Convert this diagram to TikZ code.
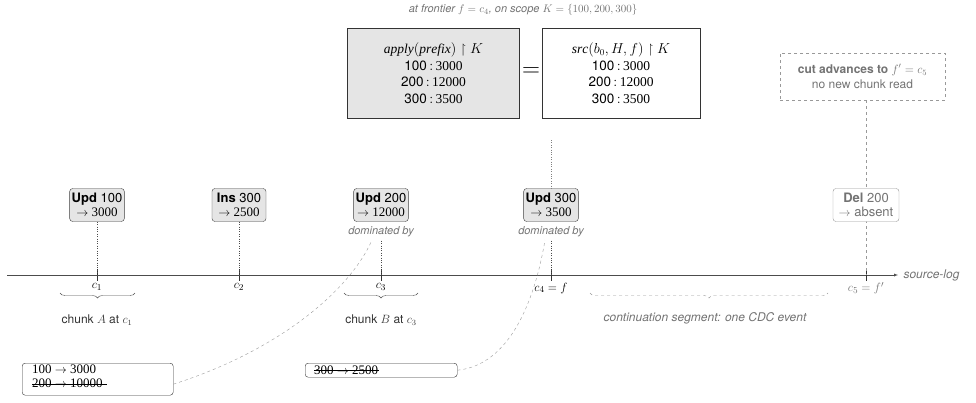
\documentclass[tikz,border=0pt]{standalone}
\usepackage{amsmath,amssymb}
\usepackage{fontspec}
\setmainfont{Liberation Serif}
\setsansfont{TeX Gyre Heros}
\usetikzlibrary{decorations.pathreplacing}
\begin{document}
\begin{tikzpicture}[x=1pt,y=-1pt,font=\fontsize{13}{14}\selectfont,
 ev/.style={draw=black!75,fill=black!10,rounded corners=3pt,align=center,inner sep=2pt,minimum width=54pt,minimum height=33pt},
 gev/.style={draw=black!40,text=black!55,fill=white,rounded corners=3pt,align=center,inner sep=2pt,minimum width=66pt,minimum height=33pt},
 dom/.style={font=\sffamily\itshape\fontsize{11}{12}\selectfont,text=black!55},
 cl/.style={inner sep=1pt},
 big/.style={draw=black!80,align=center,minimum width=172pt,minimum height=90pt,font=\fontsize{13.5}{16.5}\selectfont},
 st/.style={draw=black!80,rounded corners=3pt,anchor=north west,inner sep=0pt},
 curve/.style={draw=black!40,dashed}]
\useasboundingbox (0,0) rectangle (976,402);
% axis
\coordinate (a0) at (7,275); \coordinate (a1) at (898,275);
\draw[black!70,-latex] (a0) -- (a1);
\node[anchor=west,dom,font=\sffamily\itshape\fontsize{12}{13}\selectfont] (sl) at (900,275) {source-log};
\foreach \n/\x in {1/97,2/239,3/381,4/551,5/866}{\coordinate (t\n) at (\x,275); \draw[black!80] (\x,269) -- (\x,281);}
\node[cl] (c1) at (97,287) {$c_1$};
\node[cl] (c2) at (239,287) {$c_2$};
\node[cl] (c3) at (381,287) {$c_3$};
\node[cl] (c4) at (551,288) {$c_4 = f$};
\node[cl,text=black!55] (c5) at (866,288) {$c_5 = f'$};
% events
\node[ev] (e1) at (97,205) {\textsf{\textbf{Upd} 100}\\$\rightarrow$ 3000};
\node[ev] (e2) at (239,205) {\textsf{\textbf{Ins} 300}\\$\rightarrow$ 2500};
\node[ev] (e3) at (381,205) {\textsf{\textbf{Upd} 200}\\$\rightarrow$ 12000};
\node[ev] (e4) at (551,205) {\textsf{\textbf{Upd} 300}\\$\rightarrow$ 3500};
\node[dom] (d3) at (381,232) {dominated by};
\node[dom] (d4) at (551,232) {dominated by};
\foreach \i in {1,2}{\draw[dotted,black!70] (e\i.south) -- (t\i);}
\draw[dotted,black!70] (d3.south) -- (t3);
\draw[dotted,black!70] (d4.south) -- (t4);
% braces
\draw[black!70,decorate,decoration={brace,mirror,amplitude=5pt}] (60,293) -- (135,293);
\draw[black!70,decorate,decoration={brace,mirror,amplitude=5pt}] (344,293) -- (418,293);
\node[font=\sffamily\fontsize{12}{13}\selectfont,text=black!80] (ca) at (97,320) {chunk $A$ at $c_1$};
\node[font=\sffamily\fontsize{12}{13}\selectfont,text=black!80] (cb) at (381,320) {chunk $B$ at $c_3$};
\draw[black!40,dashed,decorate,decoration={brace,mirror,amplitude=5pt}] (590,293) -- (828,293);
\node[dom,font=\sffamily\itshape\fontsize{12}{13}\selectfont] (cs) at (705,318) {continuation segment: one CDC event};
% bottom boxes
\node[st,minimum width=151pt,minimum height=32pt] (b1) at (22,363) {};
\node[anchor=north west,align=left,inner sep=0pt] (b1t) at (32,365) {100 $\rightarrow$ 3000\\\rlap{\rule[0.6ex]{75pt}{0.6pt}}200 $\rightarrow$ 10000};
\node[st,minimum width=152pt,minimum height=14pt] (b2) at (305,363) {};
\node[anchor=west,inner sep=0pt] (b2t) at (314,370) {\rlap{\rule[0.6ex]{65pt}{0.6pt}}300 $\rightarrow$ 2500};
\draw[curve] (b1.east) ++(0,5) coordinate (b1e) .. controls (280,350) and (350,290) .. (372,240) coordinate (d3e);
\draw[curve] (b2.east) .. controls (510,365) and (535,300) .. (545,240);
% top
\node[dom] (cap) at (523,10) {at frontier $f = c_4$, on scope $K = \{100, 200, 300\}$};
\node[big,fill=black!10] (L) at (433.5,73) {$\mathit{apply}(\mathit{prefix}) \restriction K$\\\textsf{100}$\,{:}\,$3000\\\textsf{200}$\,{:}\,$12000\\\textsf{300}$\,{:}\,$3500};
\node[big,minimum width=158pt] (R) at (621,73) {$\mathit{src}(b_0,H,f) \restriction K$\\\textsf{100}$\,{:}\,$3000\\\textsf{200}$\,{:}\,$12000\\\textsf{300}$\,{:}\,$3500};
\node[font=\fontsize{24}{24}\selectfont] (eq) at (531,72) {$=$};
\coordinate (r4) at (551,140);
\draw[dotted,black!50] (r4) -- (e4.north);
\node[draw=black!40,dashed,align=center,minimum width=165pt,minimum height=47pt,font=\sffamily\fontsize{12}{15}\selectfont,text=black!55] (cut) at (862.5,76.5) {\textbf{cut advances to} $f' = c_5$\\no new chunk read};
\draw[black!40,dashed] (cut.south -| t5) -- (t5);
\node[gev] (e5) at (866,205) {\textsf{\textbf{Del} 200}\\\textsf{$\rightarrow$ absent}};
\end{tikzpicture}
\end{document}
